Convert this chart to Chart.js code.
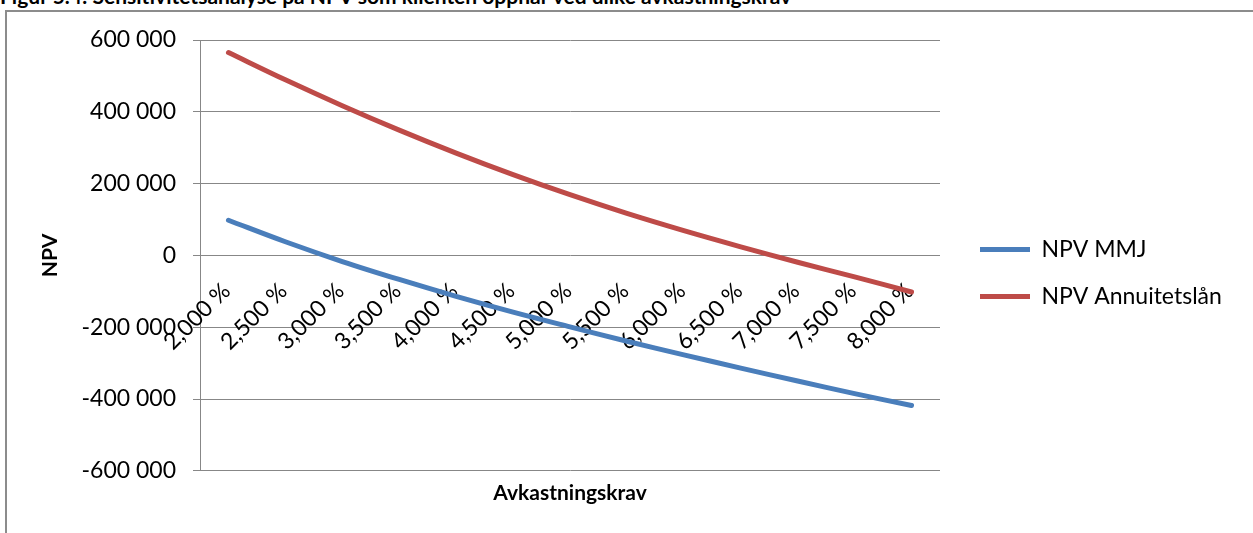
<!DOCTYPE html>
<html>
<head>
<meta charset="utf-8">
<script src="https://cdn.jsdelivr.net/npm/chart.js@4/dist/chart.umd.min.js"></script>
<style>
  html, body { margin: 0; padding: 0; background: #fff; width: 1253px; height: 533px; overflow: hidden; }
  #caption { position: absolute; left: 0; top: -14px; font: bold 21px Lato, sans-serif; line-height: 20px; white-space: nowrap; color: #000; }
  #frame { position: absolute; left: 5px; top: 10px; width: 1300px; height: 600px; border-left: 2px solid #8c8c8c; border-top: 2px solid #8c8c8c; }
  #c { position: absolute; left: 0; top: 0; }
</style>
</head>
<body>
<div id="caption">Figur 5.4: Sensitivitetsanalyse på NPV som klienten oppnår ved ulike avkastningskrav</div>
<div id="frame"></div>
<canvas id="c" width="1253" height="533"></canvas>
<script>
// Required rate of return (categories)
const rates = ['2,000 %', '2,500 %', '3,000 %', '3,500 %', '4,000 %', '4,500 %', '5,000 %',
               '5,500 %', '6,000 %', '6,500 %', '7,000 %', '7,500 %', '8,000 %'];

// NPV per required rate
const npvMMJ = [98000, 38000, -17000, -67000, -114000, -158000, -199000,
                -239000, -277000, -314000, -350000, -385000, -418000];
const npvAnnuitet = [565000, 489000, 417000, 349000, 285000, 225000, 169000,
                     117000, 69000, 24000, -19000, -60000, -102000];

const seriesNames = ['NPV MMJ', 'NPV Annuitetslån'];
const yTicks = [-600000, -400000, -200000, 0, 200000, 400000, 600000];
const xTitle = 'Avkastningskrav';
const yTitle = 'NPV';

const GRID = '#878787';
const FONT = 'Lato';

function formatThousands(v) {
  const s = Math.abs(v).toString().replace(/\B(?=(\d{3})+(?!\d))/g, ' ');
  return (v < 0 ? '-' : '') + s;
}

const chart = new Chart(document.getElementById('c'), {
  type: 'line',
  data: {
    labels: rates,
    datasets: [
      { label: seriesNames[0], data: npvMMJ, borderColor: '#4A7EBB', backgroundColor: '#4A7EBB',
        borderWidth: 5, pointRadius: 0, tension: 0.35, borderCapStyle: 'round', xAxisID: 'x', yAxisID: 'y' },
      { label: seriesNames[1], data: npvAnnuitet, borderColor: '#BE4B48', backgroundColor: '#BE4B48',
        borderWidth: 5, pointRadius: 0, tension: 0.35, borderCapStyle: 'round', xAxisID: 'x', yAxisID: 'y' }
    ]
  },
  options: {
    responsive: false,
    animation: false,
    events: [],
    layout: { padding: { left: 38, top: 40, right: 0, bottom: 27 } },
    font: { family: FONT },
    plugins: {
      tooltip: { enabled: false },
      legend: {
        position: 'right',
        maxWidth: 400,
        labels: {
          usePointStyle: true,
          pointStyle: 'line',
          pointStyleWidth: 50,
          boxHeight: 5,
          padding: 24,
          color: '#000',
          font: { family: FONT, size: 23 }
        }
      }
    },
    scales: {
      y: {
        position: 'left',
        min: -600000, max: 600000,
        afterBuildTicks(scale) { scale.ticks = yTicks.map(v => ({ value: v })); },
        afterFit(scale) { scale.width = 162; },
        ticks: { color: '#000', padding: 17, font: { family: FONT, size: 23 }, callback: v => formatThousands(v) },
        grid: { color: GRID, lineWidth: 1, tickLength: 7, drawTicks: true },
        border: { display: true, color: GRID, width: 1 },
        title: { display: true, text: yTitle, color: '#000', padding: { top: 0, bottom: 21 },
                 font: { family: FONT, size: 21, weight: 'bold' } }
      },
      x: {
        type: 'category',
        position: { y: 0 },
        offset: true,
        grid: { display: false, drawTicks: false },
        border: { display: false },
        ticks: { color: '#000', autoSkip: false, minRotation: 45, maxRotation: 45, padding: 22, labelOffset: -2,
                 font: { family: FONT, size: 23 } }
      },
      xTitle: {
        type: 'category',
        position: 'bottom',
        offset: true,
        grid: { display: false, drawTicks: false },
        border: { display: false },
        ticks: { display: false },
        title: { display: true, text: xTitle, color: '#000', padding: { top: 10, bottom: 0 },
                 font: { family: FONT, size: 21, weight: 'bold' } }
      },
      gap: {
        type: 'linear',
        position: 'right',
        grid: { display: false, drawTicks: false },
        border: { display: false },
        ticks: { display: false },
        afterFit(scale) { scale.width = 16; }
      }
    }
  }
});

// Put the legend's line start at a fixed x by adjusting right padding
const wantLegendLeft = 956;
const pad = Math.max(0, 1253 - wantLegendLeft - chart.legend.width);
chart.options.layout.padding.right = pad;
chart.update();
</script>
</body>
</html>
